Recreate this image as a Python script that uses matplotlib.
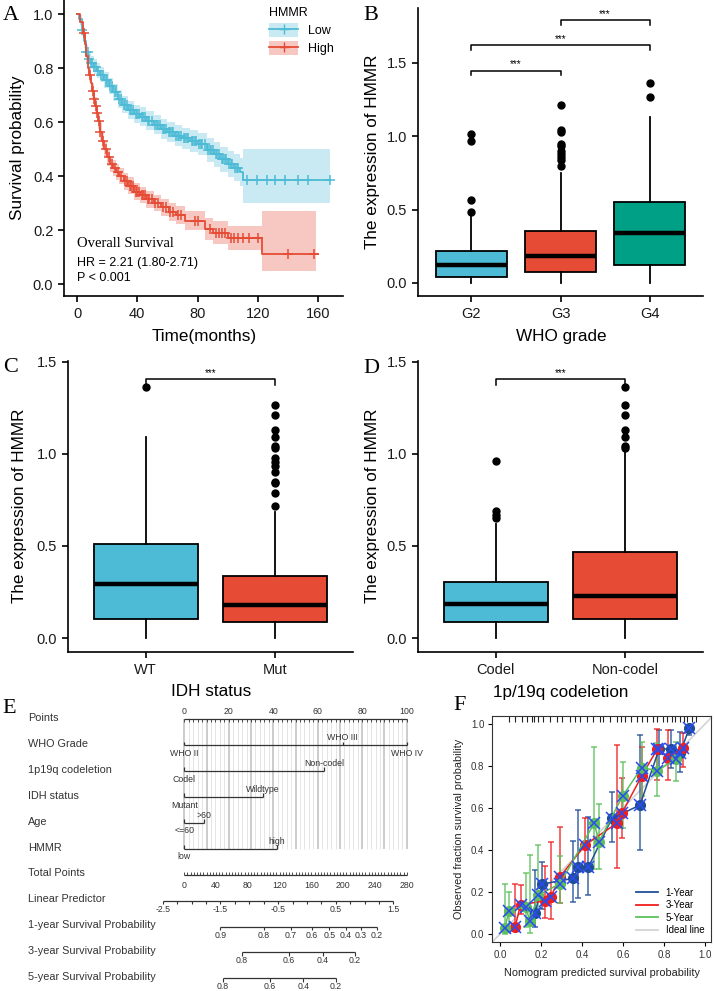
import numpy as np
import matplotlib
matplotlib.use('Agg')
import matplotlib.pyplot as plt
from matplotlib.patches import Patch
from matplotlib.lines import Line2D

plt.rcParams['font.family'] = ['Liberation Sans', 'DejaVu Sans']

# ---------------- data ----------------
# A: Kaplan-Meier, HMMR low / high
low_t = [0, 1.5, 3, 4.5, 6, 7.5, 9, 11, 13, 15, 18, 21, 24, 27, 30, 34, 38, 42, 46, 51,
         56, 60, 65, 70, 75, 80, 86, 91, 95, 100, 104, 108, 110.5]
low_s = [1.0, 0.98, 0.94, 0.90, 0.86, 0.835, 0.82, 0.805, 0.79, 0.775, 0.755, 0.735, 0.71, 0.685,
         0.665, 0.645, 0.63, 0.62, 0.605, 0.59, 0.575, 0.562, 0.55, 0.54, 0.53, 0.518, 0.497,
         0.48, 0.462, 0.445, 0.43, 0.415, 0.385]
low_lo = [1.0, 0.965, 0.92, 0.875, 0.835, 0.81, 0.795, 0.778, 0.763, 0.747, 0.726, 0.705, 0.679,
          0.653, 0.632, 0.612, 0.596, 0.585, 0.57, 0.554, 0.538, 0.525, 0.512, 0.501, 0.49,
          0.477, 0.454, 0.435, 0.416, 0.397, 0.38, 0.363, 0.30]
low_hi = [1.0, 0.995, 0.96, 0.925, 0.885, 0.86, 0.845, 0.832, 0.817, 0.803, 0.784, 0.765, 0.741,
          0.717, 0.698, 0.678, 0.664, 0.655, 0.64, 0.626, 0.612, 0.599, 0.588, 0.579, 0.57,
          0.559, 0.54, 0.525, 0.508, 0.493, 0.48, 0.467, 0.50]
low_end = 168
low_cens = [3, 6, 7, 8, 9, 10, 11.5, 12.5, 14, 16, 17, 19, 20, 22, 23, 25, 26, 28, 29, 31, 32, 33,
            35, 36, 37, 39, 40, 41, 43, 44, 45, 47, 48, 50, 52, 53, 54, 55, 57, 58, 59, 61, 62,
            63, 64, 66, 67, 68, 69, 71, 72, 73, 74, 76, 77, 78, 79, 81, 82, 83, 85, 87, 88, 89,
            90, 92, 93, 94, 96, 97, 98, 99, 101, 102, 103, 105, 106, 107, 112.7, 119.3, 125.9,
            131.4, 138, 146.9, 153.5, 167.9]

high_t = [0, 2, 4, 5, 6, 7, 8, 9, 10, 11, 12, 13, 14, 15, 16.5, 18, 20, 22, 24, 26, 28, 31, 34,
          38, 42, 46, 51, 56, 61, 66, 72, 85, 90, 100, 122.6]
high_s = [1.0, 0.97, 0.93, 0.89, 0.845, 0.80, 0.775, 0.745, 0.715, 0.685, 0.66, 0.632, 0.605,
          0.565, 0.53, 0.50, 0.47, 0.445, 0.43, 0.415, 0.40, 0.38, 0.365, 0.342, 0.33, 0.314,
          0.30, 0.285, 0.268, 0.255, 0.235, 0.205, 0.19, 0.172, 0.113]
high_lo = [1.0, 0.96, 0.91, 0.868, 0.82, 0.773, 0.747, 0.716, 0.685, 0.655, 0.629, 0.601, 0.574,
           0.534, 0.499, 0.469, 0.439, 0.414, 0.399, 0.384, 0.369, 0.349, 0.334, 0.311, 0.299,
           0.283, 0.269, 0.253, 0.235, 0.221, 0.199, 0.165, 0.148, 0.127, 0.05]
high_hi = [1.0, 0.98, 0.95, 0.912, 0.87, 0.827, 0.803, 0.774, 0.745, 0.715, 0.691, 0.663, 0.636,
           0.596, 0.561, 0.531, 0.501, 0.476, 0.461, 0.446, 0.431, 0.411, 0.396, 0.373, 0.361,
           0.345, 0.331, 0.317, 0.301, 0.289, 0.271, 0.245, 0.232, 0.217, 0.27]
high_end = 160
high_band_end = 158.6
high_cens = [4.5, 8.5, 10.5, 11.5, 12.5, 13.5, 14.5, 15.5, 17, 19, 21, 23, 25, 27, 29, 32, 33, 35,
             36, 37, 39, 40, 41, 43, 44, 45, 47, 48, 50, 52, 54, 57, 59, 62, 64, 67, 69, 78, 80,
             88, 92, 94, 96, 98, 102, 104, 107, 110, 114, 120, 139.8, 157.6]

# B-D: boxplot summaries (whislo, q1, median, q3, whishi, outliers)
grade_labels = ['G2', 'G3', 'G4']
grade_box = [(0, 0.041, 0.125, 0.216, 0.47, [0.486, 0.566, 0.966, 1.016]),
             (0, 0.073, 0.186, 0.352, 0.75, [0.80, 0.84, 0.86, 0.88, 0.90, 0.93, 0.95, 1.03, 1.04, 1.216]),
             (0, 0.12, 0.34, 0.555, 1.13, [1.268, 1.366])]
grade_sig = [(1, 2, 1.448), (1, 3, 1.62), (2, 3, 1.79)]

idh_labels = ['WT', 'Mut']
idh_box = [(0, 0.101, 0.292, 0.513, 1.094, [1.362]),
           (0, 0.089, 0.181, 0.337, 0.687, [0.717, 0.79, 0.84, 0.85, 0.904, 0.937, 0.958, 0.976,
                                            1.03, 1.043, 1.094, 1.13, 1.212, 1.264])]
codel_labels = ['Codel', 'Non-codel']
codel_box = [(0, 0.085, 0.185, 0.306, 0.618, [0.65, 0.668, 0.692, 0.96]),
             (0, 0.101, 0.228, 0.469, 1.018, [1.03, 1.043, 1.094, 1.13, 1.212, 1.264, 1.362])]
pair_sig = [(1, 2, 1.406)]

# E: nomogram
nom_vars = ['WHO Grade', '1p19q codeletion', 'IDH status', 'Age', 'HMMR']
nom_levels = [['WHO II', 'WHO III', 'WHO IV'], ['Codel', 'Non-codel'], ['Mutant', 'Wildtype'],
              ['<=60', '>60'], ['low', 'high']]
nom_points = [[0, 71.2, 100], [0, 63], [0, 35.2], [0, 9], [0, 41.5]]
total_max = 280
lp_at_0, lp_at_max = -2.126, 1.729      # linear predictor at total points 0 and 280
lp_labels = [-2.5, -1.5, -0.5, 0.5, 1.5]
surv_rows = ['1-year Survival Probability', '3-year Survival Probability',
             '5-year Survival Probability']
surv_labels = [[0.9, 0.8, 0.7, 0.6, 0.5, 0.4, 0.3, 0.2], [0.8, 0.6, 0.4, 0.2], [0.8, 0.6, 0.4, 0.2]]
surv_lp = [[-1.50, -0.75, -0.28, 0.08, 0.39, 0.67, 0.94, 1.21],
           [-1.13, -0.31, 0.27, 0.83],
           [-1.46, -0.64, -0.06, 0.50]]

# F: calibration
cal1_x = [0.171, 0.207, 0.358, 0.382, 0.431, 0.545, 0.683, 0.776, 0.834, 0.878, 0.923]
cal1_y = [0.10, 0.238, 0.265, 0.318, 0.318, 0.55, 0.614, 0.881, 0.881, 0.86, 0.98]
cal1_lo = [0.035, 0.12, 0.154, 0.17, 0.186, 0.44, 0.40, 0.79, 0.789, 0.773, 0.948]
cal1_hi = [0.305, 0.341, 0.443, 0.59, 0.559, 0.678, 0.948, 0.97, 0.971, 0.963, 0.995]
cal3_x = [0.073, 0.10, 0.22, 0.247, 0.293, 0.415, 0.569, 0.594, 0.691, 0.767, 0.821, 0.891]
cal3_y = [0.032, 0.138, 0.159, 0.175, 0.273, 0.424, 0.527, 0.575, 0.752, 0.881, 0.84, 0.884]
cal3_lo = [0.016, 0.095, 0.075, 0.07, 0.15, 0.305, 0.313, 0.455, 0.61, 0.733, 0.733, 0.797]
cal3_hi = [0.238, 0.233, 0.325, 0.44, 0.508, 0.554, 0.90, 0.744, 0.89, 0.976, 0.971, 0.955]
cal5_x = [0.024, 0.044, 0.125, 0.146, 0.184, 0.293, 0.459, 0.483, 0.598, 0.691, 0.767, 0.859]
cal5_y = [0.03, 0.11, 0.13, 0.06, 0.184, 0.24, 0.527, 0.44, 0.657, 0.792, 0.778, 0.832]
cal5_lo = [0.0, 0.02, 0.035, 0.005, 0.10, 0.15, 0.31, 0.31, 0.505, 0.657, 0.657, 0.729]
cal5_hi = [0.24, 0.20, 0.29, 0.376, 0.424, 0.37, 0.89, 0.62, 0.82, 0.916, 0.908, 0.913]
rug_x = [0.045, 0.073, 0.109, 0.133, 0.155, 0.167, 0.187, 0.211, 0.244, 0.276, 0.301, 0.341,
         0.366, 0.39, 0.423, 0.455, 0.488, 0.504, 0.537, 0.569, 0.589, 0.61, 0.638, 0.667,
         0.691, 0.716, 0.748, 0.767, 0.797, 0.813, 0.838, 0.854, 0.878, 0.898, 0.914, 0.935, 0.956]

# ---------------- figure ----------------
W, H = 715, 991
fig = plt.figure(figsize=(W / 100, H / 100), dpi=100)

BLUE, RED, GREEN = '#4DBBD5', '#E64B35', '#00A087'


def px_axes(l, t, r, b):
    return fig.add_axes([l / W, 1 - b / H, (r - l) / W, (b - t) / H])


def ftext(x, y, s, **kw):
    return fig.text(x / W, 1 - y / H, s, **kw)


def gg_style(ax):
    for s in ['top', 'right']:
        ax.spines[s].set_visible(False)
    for s in ['left', 'bottom']:
        ax.spines[s].set_linewidth(1.2)
    ax.tick_params(direction='out', length=4.5, width=1.2, labelsize=10.5, pad=3.5,
                   labelcolor='#1a1a1a')


def boxes(ax, data, labels, colors, sig, ylim, xmax):
    stats = []
    for (wl, q1, med, q3, wh, fl), lab in zip(data, labels):
        stats.append(dict(whislo=wl, q1=q1, med=med, q3=q3, whishi=wh, fliers=fl, label=lab))
    pos = list(range(1, len(stats) + 1))
    bp = ax.bxp(stats, positions=pos, widths=0.8, patch_artist=True, showcaps=False,
                boxprops=dict(lw=1.3, edgecolor='black'),
                medianprops=dict(color='black', lw=3.2),
                whiskerprops=dict(lw=1.3, color='black'),
                flierprops=dict(marker='o', mfc='black', mec='black', ms=5))
    for patch, c in zip(bp['boxes'], colors):
        patch.set_facecolor(c)
    for a, b, y in sig:
        ax.plot([a, a, b, b], [y - 0.034, y, y, y - 0.034], color='black', lw=1.1)
        ax.text((a + b) / 2, y + 0.008, '***', ha='center', va='bottom', fontsize=7)
    ax.set_xlim(0.4, xmax)
    ax.set_ylim(*ylim)
    ax.set_yticks([0, 0.5, 1.0, 1.5])
    ax.set_yticklabels(['0.0', '0.5', '1.0', '1.5'])
    gg_style(ax)


# ---- A ----
axA = px_axes(64.4, 0, 342.7, 296)
groups = [(low_t, low_s, low_lo, low_hi, low_end, low_end, low_cens, BLUE),
          (high_t, high_s, high_lo, high_hi, high_end, high_band_end, high_cens, RED)]
for t, s, lo, hi, end, bend, cens, col in groups:
    tb = t + [bend]
    axA.fill_between(tb, lo + [lo[-1]], hi + [hi[-1]], step='post', color=col, alpha=0.3, lw=0)
    axA.step(t + [end], s + [s[-1]], where='post', color=col, lw=1.3)
    idx = np.searchsorted(t, cens, side='right') - 1
    axA.plot(cens, np.array(s)[idx], ls='none', marker='+', color=col, ms=7, mew=1.1)
axA.set_xlim(-8.4, 176.4)
axA.set_ylim(-0.044, 1.052)
axA.set_xticks([0, 40, 80, 120, 160])
axA.set_yticks([0, 0.2, 0.4, 0.6, 0.8, 1.0])
axA.set_yticklabels(['0.0', '0.2', '0.4', '0.6', '0.8', '1.0'])
gg_style(axA)
handles = [(Patch(facecolor=BLUE, alpha=0.3, lw=0), Line2D([], [], color=BLUE, marker='+', ms=7, lw=1.3)),
           (Patch(facecolor=RED, alpha=0.3, lw=0), Line2D([], [], color=RED, marker='+', ms=7, lw=1.3))]
axA.legend(handles, ['Low', 'High'], title='HMMR', loc='upper left', bbox_to_anchor=(0.71, 1.0),
           frameon=False, fontsize=9, title_fontsize=9, handlelength=2.3, handleheight=1.3,
           labelspacing=0.3, alignment='left', borderaxespad=0.2)
axA.text(0, 0.152, 'Overall Survival', family='Liberation Serif', fontsize=10.5, va='center')
axA.text(0, 0.078, 'HR = 2.21 (1.80-2.71)', fontsize=9, va='center')
axA.text(0, 0.022, 'P < 0.001', fontsize=9, va='center')
ftext(18, 148, 'Survival probability', rotation=90, ha='center', va='center', fontsize=12.3)
ftext(204, 337, 'Time(months)', ha='center', va='center', fontsize=12.3)

# ---- B ----
axB = px_axes(418, 8, 703, 296)
boxes(axB, grade_box, grade_labels, [BLUE, RED, GREEN], grade_sig, (-0.089, 1.874), 3.6)
ftext(372, 152, 'The expression of HMMR', rotation=90, ha='center', va='center', fontsize=12.3)
ftext(561, 337, 'WHO grade', ha='center', va='center', fontsize=12.3)

# ---- C ----
axC = px_axes(68, 361, 353, 652)
boxes(axC, idh_box, idh_labels, [BLUE, RED], pair_sig, (-0.076, 1.505), 2.6)
ftext(20, 506, 'The expression of HMMR', rotation=90, ha='center', va='center', fontsize=12.3)
ftext(211, 692, 'IDH status', ha='center', va='center', fontsize=12.3)

# ---- D ----
axD = px_axes(418, 361, 703, 652)
boxes(axD, codel_box, codel_labels, [BLUE, RED], pair_sig, (-0.076, 1.505), 2.6)
ftext(372, 506, 'The expression of HMMR', rotation=90, ha='center', va='center', fontsize=12.3)
ftext(561, 692, '1p/19q codeletion', ha='center', va='center', fontsize=12.3)

# ---- E: nomogram ----
axE = px_axes(0, 700, 450, 991)
axE.set_xlim(-82.87, 119.47)
axE.set_ylim(10.49, -0.745)
axE.axis('off')
TC = '#333333'
lab_x = -70.3
row_names = ['Points'] + nom_vars + ['Total Points', 'Linear Predictor'] + surv_rows
for i, name in enumerate(row_names):
    axE.text(lab_x, i - 0.05, name, fontsize=7.8, color=TC, va='center', ha='left')

# grid
for p in range(0, 101, 2):
    major = p % 10 == 0
    axE.vlines(p, 0, 5, color='#C8C8C8' if major else '#E0E0E0', lw=1.3 if major else 0.6, zorder=0)
# points axis
axE.hlines(0, 0, 100, color=TC, lw=0.9)
axE.vlines(np.arange(0, 101, 2), 0, 0.12, color=TC, lw=0.6)
for p in range(0, 101, 20):
    axE.text(p, -0.3, str(p), fontsize=6.3, ha='center', va='center', color=TC)
# variables
for i, (lvls, pts) in enumerate(zip(nom_levels, nom_points)):
    y = i + 1
    axE.hlines(y, 0, max(pts), color=TC, lw=0.9)
    for j, (lv, p) in enumerate(zip(lvls, pts)):
        axE.vlines(p, y - 0.14, y, color=TC, lw=0.9)
        off = 0.31 if j % 2 == 0 else -0.29
        axE.text(p, y + off, lv, fontsize=6.3, ha='center', va='center', color=TC)
# total points
tp_scale = 100 / total_max
axE.hlines(6, 0, 100, color=TC, lw=0.9)
axE.vlines(np.arange(0, total_max + 1, 4) * tp_scale, 6 - 0.12, 6, color=TC, lw=0.6)
for tp in range(0, total_max + 1, 40):
    axE.text(tp * tp_scale, 6.4, str(tp), fontsize=6.3, ha='center', va='center', color=TC)


def lp_to_pts(v):
    return (np.asarray(v) - lp_at_0) / (lp_at_max - lp_at_0) * 100


# linear predictor
axE.hlines(7, lp_to_pts(-2.5), lp_to_pts(1.5), color=TC, lw=0.9)
axE.vlines(lp_to_pts(np.arange(-2.5, 1.51, 0.25)), 7, 7.15, color=TC, lw=0.8)
for v in lp_labels:
    axE.text(lp_to_pts(v), 7.33, f'{v:g}', fontsize=6.3, ha='center', va='center', color=TC)
# survival scales
for k, (labs, lps) in enumerate(zip(surv_labels, surv_lp)):
    y = 8 + k
    xs = lp_to_pts(lps)
    axE.hlines(y, xs[0], xs[-1], color=TC, lw=0.9)
    axE.vlines(xs, y, y + 0.15, color=TC, lw=0.8)
    for x, lab in zip(xs, labs):
        axE.text(x, y + 0.33, f'{lab:g}', fontsize=6.3, ha='center', va='center', color=TC)

# ---- F: calibration ----
axF = px_axes(492, 716, 711, 942)
axF.axline((0, 0), slope=1, color='#D3D3D3', lw=1.2, zorder=0)
series = [(cal1_x, cal1_y, cal1_lo, cal1_hi, '#1F4E96', '1-Year'),
          (cal3_x, cal3_y, cal3_lo, cal3_hi, '#F01E1E', '3-Year'),
          (cal5_x, cal5_y, cal5_lo, cal5_hi, '#5CBF5C', '5-Year')]
for x, y, lo, hi, col, lab in series:
    y = np.array(y)
    axF.errorbar(x, y, yerr=[y - np.array(lo), np.array(hi) - y], fmt='none', ecolor=col,
                 elinewidth=1.1, capsize=2, capthick=1.1, alpha=0.85, zorder=2)
    axF.plot(x, y, color=col, lw=1.1, marker='o', ms=7, zorder=3)
    axF.plot(x, y, ls='none', marker='x', ms=8, mew=1.1, color='#2A4BF0', zorder=4)
axF.vlines(rug_x, 1.038 - 0.03, 1.038, color='#222222', lw=0.8)
axF.set_xlim(-0.039, 1.029)
axF.set_ylim(-0.038, 1.038)
ticks = [0, 0.2, 0.4, 0.6, 0.8, 1.0]
axF.set_xticks(ticks)
axF.set_yticks(ticks)
axF.set_xticklabels([f'{v:.1f}' for v in ticks])
axF.set_yticklabels([f'{v:.1f}' for v in ticks])
axF.tick_params(direction='out', length=3, width=0.8, labelsize=7, pad=2.5, labelcolor='#333333')
for s in axF.spines.values():
    s.set_linewidth(0.8)
    s.set_color('#333333')
leg_handles = [Line2D([], [], color='#1F4E96', lw=1.3), Line2D([], [], color='#F01E1E', lw=1.3),
               Line2D([], [], color='#5CBF5C', lw=1.3), Line2D([], [], color='#D3D3D3', lw=1.3)]
axF.legend(leg_handles, ['1-Year', '3-Year', '5-Year', 'Ideal line'], loc='lower right',
           frameon=False, fontsize=7, handlelength=2.2, labelspacing=0.25, borderaxespad=0.3)
ftext(459, 829, 'Observed fraction survival probability', rotation=90, ha='center', va='center',
      fontsize=7.8, color='#222222')
ftext(602, 973, 'Nomogram predicted survival probability', ha='center', va='center',
      fontsize=7.8, color='#222222')

# panel letters
for lab, x, y in [('A', 3, 20), ('B', 363, 20), ('C', 3, 372), ('D', 363, 373), ('E', 2, 713),
                  ('F', 453, 710)]:
    ftext(x, y, lab, family='Liberation Serif', fontsize=16, va='baseline', ha='left')

fig.savefig('out.png', dpi=100)
